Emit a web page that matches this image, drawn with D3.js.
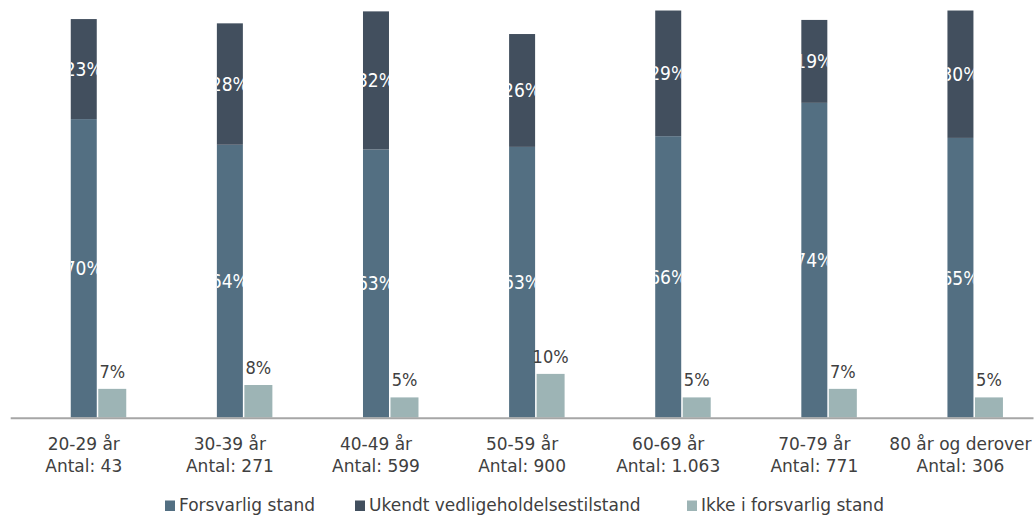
<!DOCTYPE html>
<html>
<head>
<meta charset="utf-8">
<script src="https://cdn.jsdelivr.net/npm/d3@7"></script>
<style>
  html, body { margin: 0; padding: 0; background: #fff; }
  svg { display: block; }
</style>
</head>
<body>
<svg id="chart" width="1035" height="515"></svg>
<script>
const categories = ["20-29 år", "30-39 år", "40-49 år", "50-59 år", "60-69 år", "70-79 år", "80 år og derover"];
const counts = ["Antal: 43", "Antal: 271", "Antal: 599", "Antal: 900", "Antal: 1.063", "Antal: 771", "Antal: 306"];
const forsvarlig = [69.8, 63.8, 62.7, 63.3, 65.8, 73.6, 65.4];
const ukendt = [23.4, 28.4, 32.3, 26.4, 29.4, 19.4, 29.8];
const ikke = [6.7, 7.6, 4.7, 10.2, 4.7, 6.7, 4.7];
const seriesNames = ["Forsvarlig stand", "Ukendt vedligeholdelsestilstand", "Ikke i forsvarlig stand"];
const colors = ["#536f82", "#424f5e", "#9db4b5"];

const svg = d3.select("#chart");
const baseY = 417.5;
const x = d3.scaleBand().domain(categories).range([10.7, 1033.5]);
const y = d3.scaleLinear().domain([0, 100]).range([baseY, baseY - 427.5]);
const pct = d3.format(".0f");
const stackW = 26, lightW = 28;

const data = categories.map((c, i) => ({ c, i, f: forsvarlig[i], u: ukendt[i], k: ikke[i] }));
const stack = d3.stack().keys(["f", "u"])(data);

const defs = svg.append("defs");
const gBars = svg.append("g");

stack.forEach((layer, li) => {
  layer.forEach((d, i) => {
    const cx = x(categories[i]) + x.bandwidth() / 2;
    const x0 = cx - stackW / 2;
    const y0 = y(d[1]), y1 = y(d[0]);
    const id = "clip" + li + "_" + i;
    defs.append("clipPath").attr("id", id).append("rect")
      .attr("x", x0).attr("y", y0).attr("width", stackW).attr("height", y1 - y0);
    gBars.append("rect")
      .attr("x", x0).attr("y", y0).attr("width", stackW).attr("height", y1 - y0)
      .attr("fill", colors[li]);
    gBars.append("text")
      .attr("clip-path", "url(#" + id + ")")
      .attr("x", cx).attr("y", (y0 + y1) / 2)
      .attr("dy", "0.36em")
      .attr("text-anchor", "middle")
      .attr("font-family", "'Liberation Sans Narrow', 'DejaVu Sans Condensed', sans-serif")
      .attr("font-size", 19)
      .attr("fill", "#ffffff")
      .text(pct(d[1] - d[0]) + "%");
  });
});

data.forEach((d, i) => {
  const cx = x(d.c) + x.bandwidth() / 2;
  const x0 = cx + 14.5;
  gBars.append("rect")
    .attr("x", x0).attr("y", y(d.k)).attr("width", lightW).attr("height", baseY - y(d.k))
    .attr("fill", colors[2]);
  gBars.append("text")
    .attr("x", x0 + lightW / 2).attr("y", y(d.k) - 11)
    .attr("text-anchor", "middle")
    .attr("font-family", "'Liberation Sans Narrow', 'DejaVu Sans Condensed', sans-serif")
    .attr("font-size", 18)
    .attr("fill", "#404040")
    .text(pct(d.k) + "%");
});

// axis
const axis = d3.axisBottom(x).tickSize(0).tickFormat("");
const gAxis = svg.append("g").attr("transform", "translate(0," + 418.3 + ")").call(axis);
gAxis.select(".domain").remove();
gAxis.append("line").attr("x1", 10.7).attr("x2", 1033.5).attr("y1", 0).attr("y2", 0)
  .attr("stroke", "#a6a6a6").attr("stroke-width", 2);
gAxis.selectAll(".tick").each(function (c, i) {
  const t = d3.select(this).select("text")
    .attr("y", 0).attr("dy", null)
    .attr("font-family", "'DejaVu Sans', sans-serif")
    .attr("font-size", 17)
    .attr("fill", "#404040");
  t.text(null);
  t.append("tspan").attr("x", 0).attr("y", 32).text(c);
  t.append("tspan").attr("x", 0).attr("y", 54).text(counts[i]);
});

// legend
const legendX = [165, 355, 687];
const gLeg = svg.append("g");
seriesNames.forEach((n, i) => {
  gLeg.append("rect").attr("x", legendX[i]).attr("y", 500.5).attr("width", 10).attr("height", 10.5)
    .attr("fill", colors[i]);
  gLeg.append("text").attr("x", legendX[i] + 14).attr("y", 510.5)
    .attr("font-family", "'DejaVu Sans', sans-serif")
    .attr("font-size", 17)
    .attr("fill", "#404040")
    .text(n);
});
</script>
</body>
</html>
